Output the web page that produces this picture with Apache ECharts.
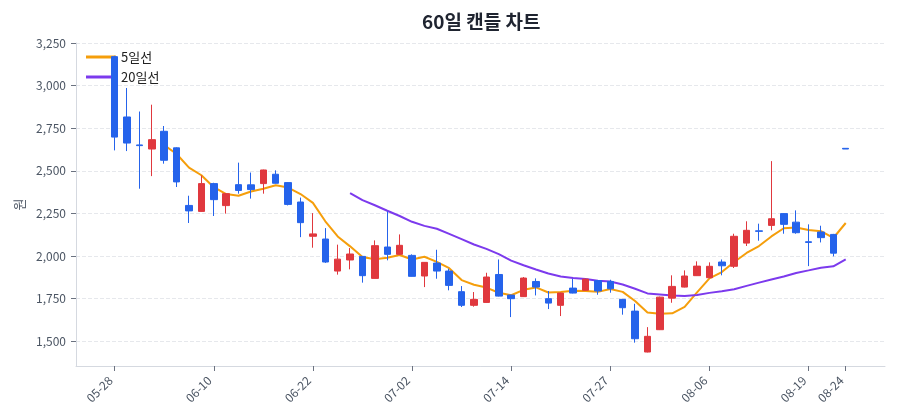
<!DOCTYPE html>
<html>
<head>
<meta charset="utf-8">
<script src="https://cdn.jsdelivr.net/npm/echarts@6/dist/echarts.min.js"></script>
<style>
html,body{margin:0;padding:0;background:#fff;}
#main{width:900px;height:420px;}
</style>
</head>
<body>
<div id="main"></div>
<script>
const dates = ['05-28','05-29','06-01','06-02','06-04','06-05','06-08','06-09','06-10','06-11',
  '06-12','06-15','06-16','06-17','06-18','06-19','06-22','06-23','06-24','06-25',
  '06-26','06-29','06-30','07-01','07-02','07-03','07-06','07-07','07-08','07-09',
  '07-10','07-13','07-14','07-15','07-16','07-20','07-21','07-22','07-23','07-24',
  '07-27','07-28','07-29','07-30','07-31','08-03','08-04','08-05','08-06','08-07',
  '08-10','08-11','08-12','08-13','08-14','08-18','08-19','08-20','08-21','08-24'];

const opens  = [3170,2816,2652,2628,2732,2635,2297,2262,2425,2296,
  2419,2418,2425,2480,2431,2317,2116,2100,1912,1977,
  1998,1869,2053,2010,2004,1883,1959,1912,1791,1711,
  1728,1892,1771,1762,1851,1750,1711,1812,1799,1856,
  1851,1746,1677,1437,1568,1753,1818,1885,1873,1965,
  1940,2076,2148,2180,2249,2199,2084,2141,2127,2632];
const closes = [2698,2663,2648,2683,2562,2435,2265,2425,2331,2366,
  2385,2390,2505,2427,2303,2196,2130,1965,1982,2012,
  1885,2061,2010,2063,1881,1963,1912,1828,1711,1746,
  1877,1765,1750,1871,1818,1724,1783,1783,1865,1795,
  1808,1697,1515,1529,1759,1822,1883,1941,1940,1943,
  2116,2151,2145,2219,2186,2137,2080,2108,2017,2628];
const lows   = [2620,2616,2395,2469,2542,2405,2194,2260,2235,2249,
  2366,2337,2366,2425,2297,2111,2049,1960,1891,1922,
  1844,1869,1975,2008,1880,1818,1867,1799,1701,1703,
  1726,1763,1642,1760,1769,1689,1648,1781,1797,1773,
  1785,1656,1492,1435,1566,1726,1816,1883,1870,1887,
  1930,2059,2090,2151,2131,2131,1941,2080,1998,2628];
const highs  = [3175,2986,2848,2888,2763,2638,2354,2473,2430,2370,
  2548,2490,2507,2503,2433,2343,2252,2164,2067,2047,
  2000,2092,2262,2127,2010,1965,2037,1926,1824,1789,
  1902,1980,1773,1877,1869,1795,1785,1867,1867,1858,
  1861,1748,1720,1583,1762,1887,1916,1969,1963,1980,
  2131,2204,2190,2557,2251,2268,2186,2178,2130,2632];

const ma5  = [null,null,null,null,2651,2599,2519,2474,2404,2364,
  2354,2379,2395,2415,2402,2364,2312,2204,2115,2057,
  1995,1981,1990,2006,1980,1996,1966,1929,1859,1832,
  1815,1785,1770,1802,1816,1786,1789,1796,1795,1790,
  1807,1790,1736,1669,1662,1664,1702,1787,1869,1906,
  1965,2018,2059,2115,2163,2168,2153,2146,2106,2194];
const ma20 = [null,null,null,null,null,null,null,null,null,null,
  null,null,null,null,null,null,null,null,null,2369,
  2328,2298,2266,2235,2201,2177,2160,2130,2099,2068,
  2042,2011,1973,1946,1921,1898,1880,1871,1865,1855,
  1851,1833,1808,1781,1775,1768,1766,1772,1784,1793,
  1805,1825,1844,1862,1880,1901,1916,1932,1940,1981];

const labelIdx = [0,8,16,24,32,40,48,56,59];

const candleData = dates.map((d,i)=>[i, opens[i], closes[i], lows[i], highs[i]]);
const ma5Data = ma5.map((v,i)=> v==null ? null : [i, v]).filter(x=>x);
const ma20Data = ma20.map((v,i)=> v==null ? null : [i, v]).filter(x=>x);

const UP = '#e0383e', DOWN = '#2563eb';
const FONT = '"Noto Sans CJK KR","Noto Sans",sans-serif';

const chart = echarts.init(document.getElementById('main'), null, {renderer:'canvas'});
chart.setOption({
  animation:false,
  backgroundColor:'#fff',
  textStyle:{fontFamily:FONT},
  title:{
    text:'60일 캔들 차트',
    left:417, top:7,
    textStyle:{fontSize:19,fontWeight:'bold',color:'#1f2430',fontFamily:FONT}
  },
  legend:{
    orient:'vertical', left:81, top:45, z:1,
    itemWidth:30, itemHeight:3, itemGap:6, icon:'rect',
    data:['5일선','20일선'],
    textStyle:{fontSize:13,color:'#222',fontFamily:FONT,lineHeight:14}
  },
  grid:{left:76, right:15, top:43, bottom:54, containLabel:false},
  xAxis:{
    type:'value',
    min:-3.12, max:62.17,
    splitLine:{show:false},
    axisLine:{show:true,onZero:false,lineStyle:{color:'#d5d9e0'}},
    axisTick:{show:true,customValues:labelIdx,length:5,lineStyle:{color:'#6b7280'}},
    axisLabel:{
      customValues:labelIdx,
      rotate:45, fontSize:12, color:'#4b5563', margin:8, padding:[0,6,0,0],
      formatter:(v)=>dates[Math.round(v)] || ''
    }
  },
  yAxis:{
    type:'value',
    min:1355, max:3250,
    minInterval:250, maxInterval:250,
    name:'원', nameLocation:'middle', nameGap:47,
    nameTextStyle:{fontSize:13,color:'#4b5563',fontFamily:FONT},
    axisLine:{show:true,onZero:false,lineStyle:{color:'#d5d9e0'}},
    axisTick:{show:true,length:5,lineStyle:{color:'#6b7280'}},
    axisLabel:{
      showMinLabel:false, fontSize:12, color:'#4b5563', margin:10,
      formatter:(v)=>Math.round(v).toLocaleString('en-US')
    },
    splitLine:{show:true,lineStyle:{color:'#e6e8ec',type:'dashed'}}
  },
  series:[
    {
      name:'캔들', type:'candlestick',
      data:candleData,
      barWidth:7, z:3,
      itemStyle:{color:UP,color0:DOWN,borderColor:UP,borderColor0:DOWN,borderWidth:1}
    },
    {
      name:'5일선', type:'line', data:ma5Data,
      showSymbol:false, symbol:'none', smooth:false,
      lineStyle:{color:'#f59e0b',width:2},
      itemStyle:{color:'#f59e0b'}
    },
    {
      name:'20일선', type:'line', data:ma20Data,
      showSymbol:false, symbol:'none', smooth:false,
      lineStyle:{color:'#7c3aed',width:2},
      itemStyle:{color:'#7c3aed'}
    }
  ]
});
</script>
</body>
</html>
